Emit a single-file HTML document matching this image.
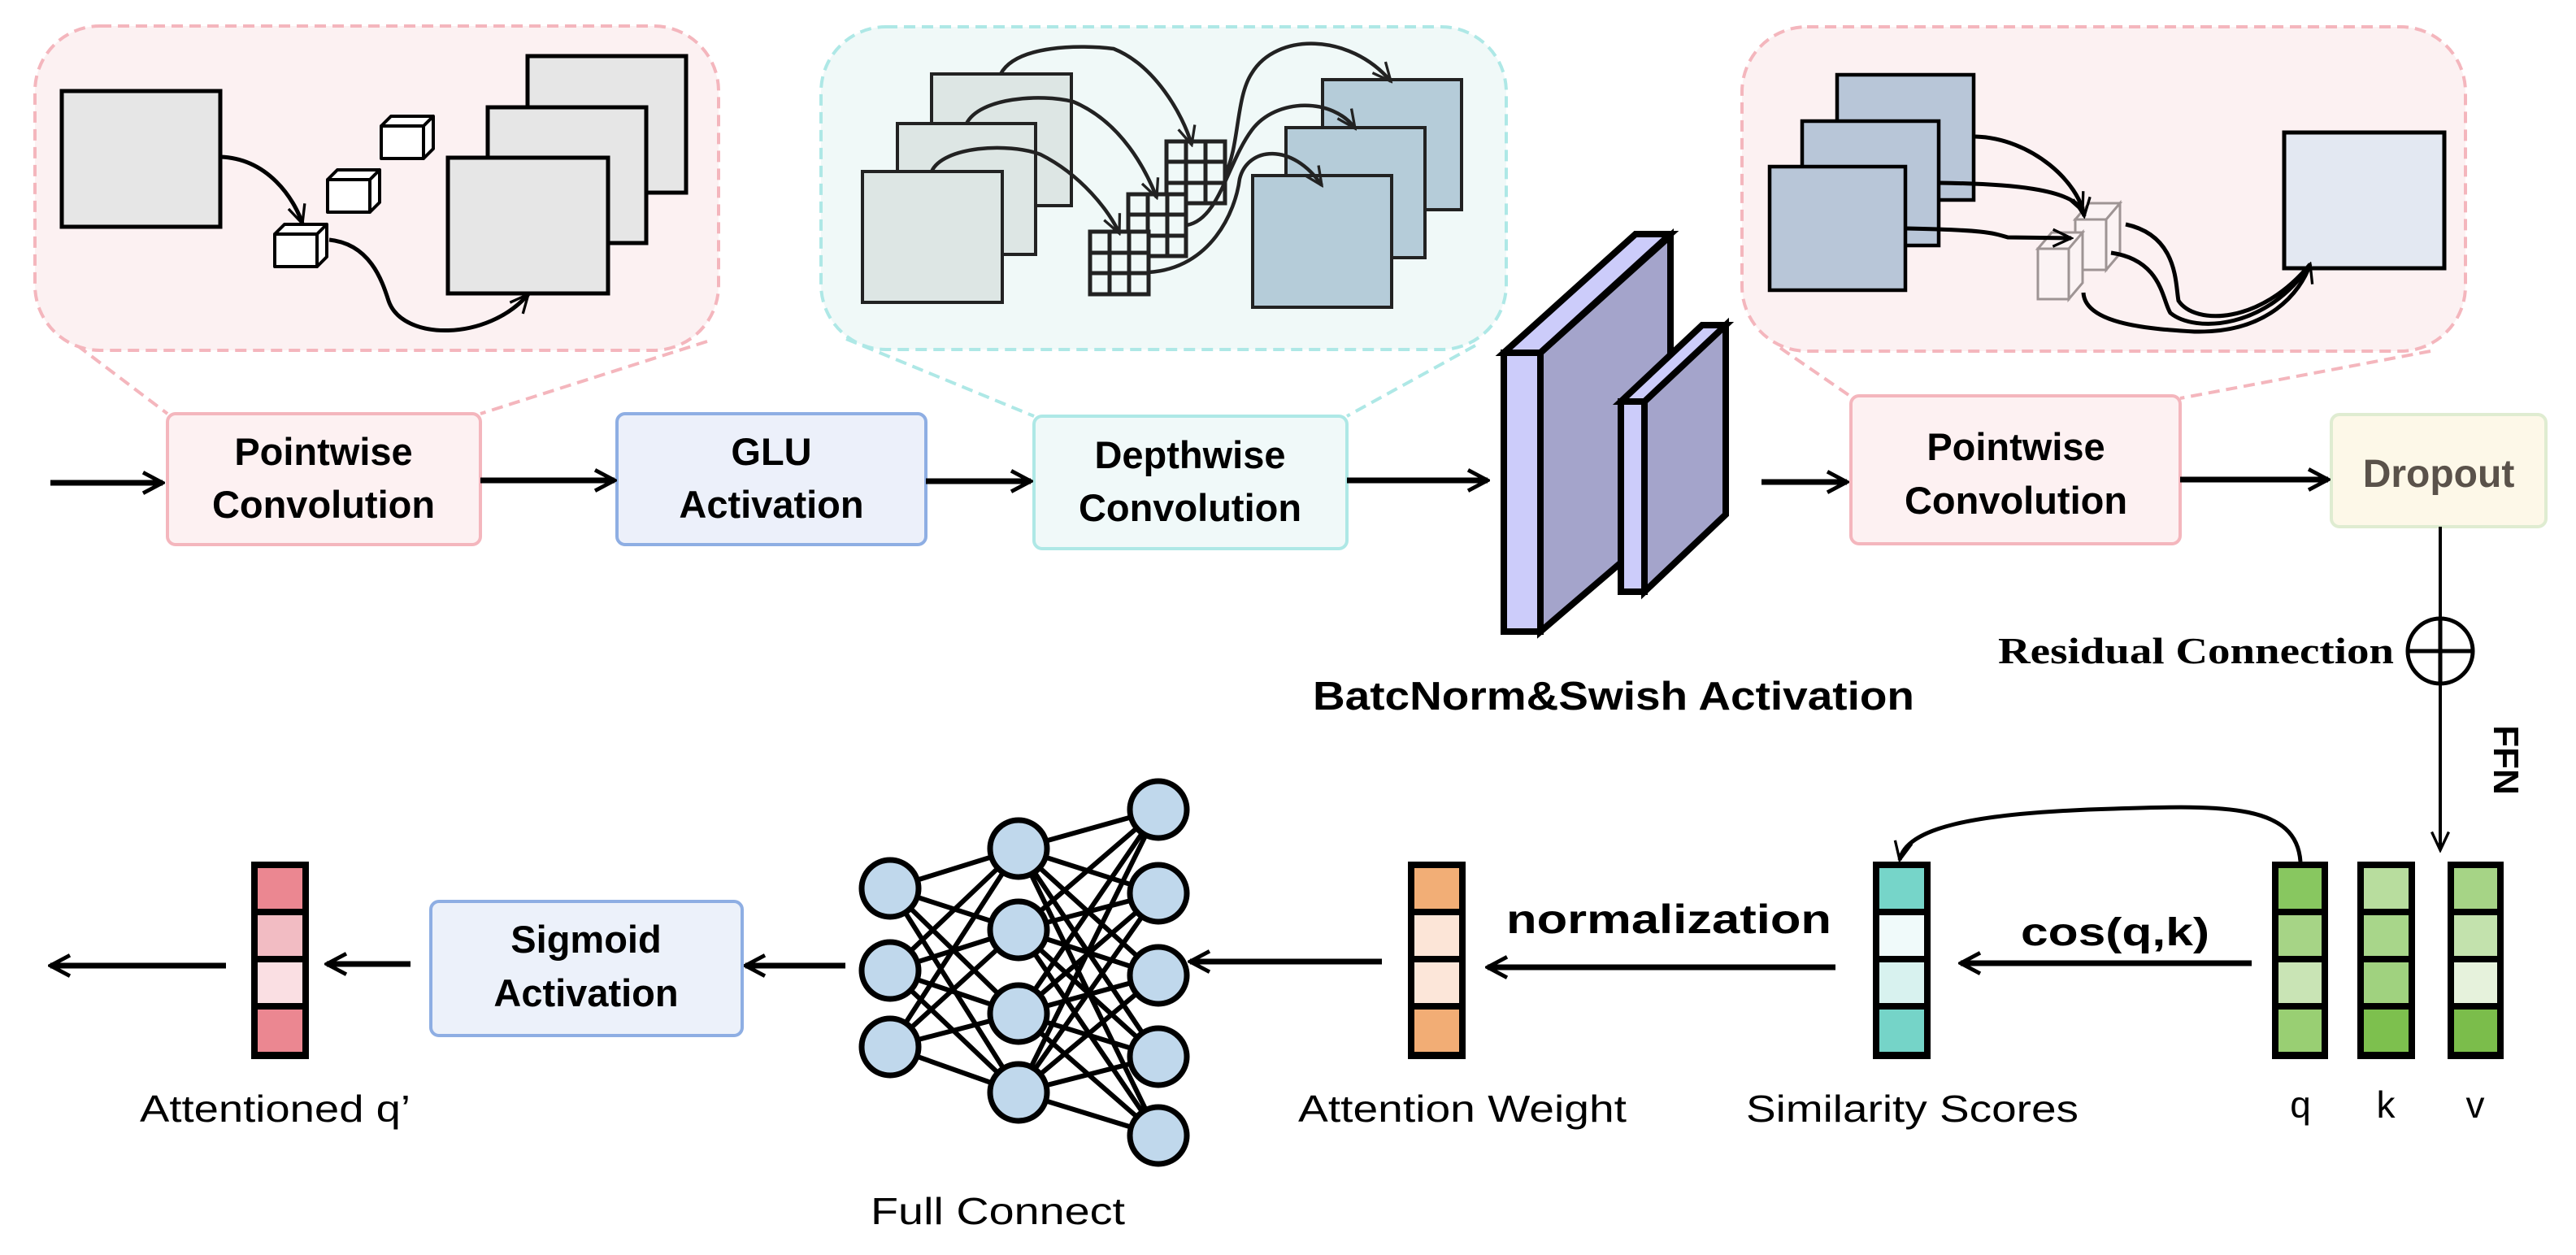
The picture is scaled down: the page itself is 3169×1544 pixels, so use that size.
<!DOCTYPE html>
<html><head><meta charset="utf-8"><style>
html,body{margin:0;padding:0;background:#fff}
svg{display:block}
text{font-family:"Liberation Sans",Arial,sans-serif}
.b{font-weight:bold}
</style></head><body>
<svg width="3169" height="1544" viewBox="0 0 3169 1544" xmlns="http://www.w3.org/2000/svg">
<defs>
<marker id="a" viewBox="0 0 20 20" refX="18" refY="10" markerWidth="32" markerHeight="32" markerUnits="userSpaceOnUse" orient="auto"><path d="M3,2 L18,10 L3,18" fill="none" stroke="#000" stroke-width="3"/></marker>
<marker id="s" viewBox="0 0 20 20" refX="18" refY="10" markerWidth="30" markerHeight="30" markerUnits="userSpaceOnUse" orient="auto"><path d="M3,3 L18,10 L3,17" fill="none" stroke="#000" stroke-width="2.2"/></marker>
<marker id="t" viewBox="0 0 20 20" refX="18" refY="10" markerWidth="30" markerHeight="30" markerUnits="userSpaceOnUse" orient="auto"><path d="M3,3 L18,10 L3,17" fill="none" stroke="#222" stroke-width="2.2"/></marker>
</defs>

<!-- ===== Box 1 (pink) ===== -->
<line x1="95" y1="425" x2="206" y2="509" stroke="#f4b6bd" stroke-width="4" stroke-dasharray="14 8"/>
<line x1="870" y1="420" x2="591" y2="509" stroke="#f4b6bd" stroke-width="4" stroke-dasharray="14 8"/>
<rect x="43" y="32" width="841" height="399" rx="80" fill="#fcf1f2" stroke="#f4b6bd" stroke-width="4" stroke-dasharray="14 8"/>
<rect x="76" y="112" width="195" height="167" fill="#e6e6e6" stroke="#000" stroke-width="5"/>
<rect x="649" y="69" width="195" height="168" fill="#e6e6e6" stroke="#000" stroke-width="5"/>
<rect x="600" y="132" width="195" height="167" fill="#e6e6e6" stroke="#000" stroke-width="5"/>
<rect x="551" y="194" width="197" height="167" fill="#e6e6e6" stroke="#000" stroke-width="5"/>
<g fill="#fff" stroke="#000" stroke-width="4" stroke-linejoin="round">
<path d="M338,288 h52 v40 h-52z M338,288 l12,-12 h52 l-12,12z M390,288 l12,-12 v40 l-12,12z"/>
<path d="M403,221 h52 v40 h-52z M403,221 l12,-12 h52 l-12,12z M455,221 l12,-12 v40 l-12,12z"/>
<path d="M469,155 h52 v40 h-52z M469,155 l12,-12 h52 l-12,12z M521,155 l12,-12 v40 l-12,12z"/>
</g>
<path d="M271,193 C330,195 362,245 372,275" fill="none" stroke="#000" stroke-width="5" marker-end="url(#s)"/>
<path d="M405,295 C455,300 470,345 478,370 C495,420 600,420 650,362" fill="none" stroke="#000" stroke-width="5" marker-end="url(#s)"/>

<!-- ===== Box 2 (teal) ===== -->
<line x1="1041" y1="417" x2="1272" y2="512" stroke="#aee8e6" stroke-width="4" stroke-dasharray="14 8"/>
<line x1="1815" y1="425" x2="1657" y2="512" stroke="#aee8e6" stroke-width="4" stroke-dasharray="14 8"/>
<rect x="1010" y="33" width="843" height="397" rx="80" fill="#f0f9f8" stroke="#aee8e6" stroke-width="4" stroke-dasharray="14 8"/>
<g stroke="#222" stroke-width="4">
<rect x="1146" y="91" width="172" height="162" fill="#dde6e4"/>
<rect x="1104" y="152" width="170" height="161" fill="#dde6e4"/>
<rect x="1061" y="211" width="172" height="161" fill="#dde6e4"/>
<rect x="1627" y="98" width="171" height="160" fill="#b5ccd9"/>
<rect x="1582" y="157" width="171" height="160" fill="#b5ccd9"/>
<rect x="1541" y="216" width="171" height="162" fill="#b5ccd9"/>
</g>
<g fill="#f0f9f8" stroke="#222" stroke-width="5">
<rect x="1435" y="174" width="72" height="76"/>
<path d="M1459,174 V250 M1483,174 V250 M1435,199 H1507 M1435,225 H1507"/>
<rect x="1388" y="239" width="71" height="76"/>
<path d="M1412,239 V315 M1436,239 V315 M1388,264 H1459 M1388,290 H1459"/>
<rect x="1341" y="285" width="72" height="77"/>
<path d="M1365,285 V362 M1389,285 V362 M1341,311 H1413 M1341,336 H1413"/>
</g>
<g fill="none" stroke="#222" stroke-width="4.5">
<path d="M1231,91 C1250,55 1330,55 1370,60 C1420,80 1455,140 1466,178" marker-end="url(#t)"/>
<path d="M1189,152 C1205,120 1280,115 1320,125 C1380,150 1410,210 1423,243" marker-end="url(#t)"/>
<path d="M1146,211 C1160,180 1240,175 1280,190 C1330,215 1365,260 1377,287" marker-end="url(#t)"/>
<path d="M1507,215 C1525,180 1520,120 1540,90 C1570,40 1660,40 1711,100" marker-end="url(#t)"/>
<path d="M1460,277 C1500,270 1510,200 1540,160 C1570,120 1640,120 1667,158" marker-end="url(#t)"/>
<path d="M1413,335 C1490,330 1520,260 1525,220 C1535,180 1590,175 1626,228" marker-end="url(#t)"/>
</g>

<!-- ===== Box 3 (pink) ===== -->
<line x1="2190" y1="428" x2="2280" y2="490" stroke="#f4b6bd" stroke-width="4" stroke-dasharray="14 8"/>
<line x1="2990" y1="432" x2="2682" y2="490" stroke="#f4b6bd" stroke-width="4" stroke-dasharray="14 8"/>
<rect x="2143" y="33" width="890" height="399" rx="80" fill="#fcf1f2" stroke="#f4b6bd" stroke-width="4" stroke-dasharray="14 8"/>
<g stroke="#000" stroke-width="4.5" fill="#b8c6d8">
<rect x="2260" y="92" width="168" height="154"/>
<rect x="2217" y="149" width="168" height="153"/>
<rect x="2177" y="205" width="167" height="152"/>
</g>
<rect x="2810" y="163" width="197" height="167" fill="#e3e8f2" stroke="#000" stroke-width="5"/>
<g fill="#fbf4f5" stroke="#9a9090" stroke-width="3" opacity="0.95">
<path d="M2553,270 h38 v62 h-38z M2553,270 l17,-20 h38 l-17,20z M2591,270 l17,-20 v62 l-17,20z"/>
<path d="M2507,306 h38 v62 h-38z M2507,306 l17,-20 h38 l-17,20z M2545,306 l17,-20 v62 l-17,20z"/>
</g>
<g fill="none" stroke="#000" stroke-width="5">
<path d="M2430,168 C2500,170 2558,225 2564,266" marker-end="url(#s)"/>
<path d="M2386,225 C2470,226 2550,232 2562,260" marker-end="url(#s)"/>
<path d="M2345,281 C2440,283 2450,286 2470,292 L2548,293" marker-end="url(#s)"/>
<path d="M2615,276 C2680,290 2676,350 2680,370 C2700,400 2780,400 2842,325"/>
<path d="M2597,311 C2660,320 2660,370 2670,385 C2700,410 2790,405 2842,325"/>
<path d="M2563,360 C2565,400 2650,405 2700,408 C2790,410 2830,360 2842,325" marker-end="url(#s)"/>
</g>

<!-- ===== Top row boxes ===== -->
<rect x="206" y="509" width="385" height="161" rx="10" fill="#fdf1f2" stroke="#f4b6bd" stroke-width="4"/>
<text x="398" y="572" font-size="47" class="b" text-anchor="middle">Pointwise</text>
<text x="398" y="637" font-size="47" class="b" text-anchor="middle">Convolution</text>
<rect x="759" y="509" width="380" height="161" rx="10" fill="#ecf0fa" stroke="#8eaee3" stroke-width="4"/>
<text x="949" y="572" font-size="47" class="b" text-anchor="middle">GLU</text>
<text x="949" y="637" font-size="47" class="b" text-anchor="middle">Activation</text>
<rect x="1272" y="512" width="385" height="163" rx="10" fill="#f0f9f9" stroke="#aee8e6" stroke-width="4"/>
<text x="1464" y="576" font-size="47" class="b" text-anchor="middle">Depthwise</text>
<text x="1464" y="641" font-size="47" class="b" text-anchor="middle">Convolution</text>
<rect x="2277" y="487" width="405" height="182" rx="10" fill="#fdf1f2" stroke="#f4b6bd" stroke-width="4"/>
<text x="2480" y="566" font-size="47" class="b" text-anchor="middle">Pointwise</text>
<text x="2480" y="632" font-size="47" class="b" text-anchor="middle">Convolution</text>
<rect x="2868" y="510" width="264" height="138" rx="10" fill="#fdf8e8" stroke="#dfecd1" stroke-width="4"/>
<text x="3000" y="599" font-size="48" class="b" text-anchor="middle" fill="#5a524a">Dropout</text>

<g stroke="#000" stroke-width="7" fill="none">
<line x1="62" y1="594" x2="200" y2="594" marker-end="url(#a)"/>
<line x1="591" y1="591" x2="756" y2="591" marker-end="url(#a)"/>
<line x1="1139" y1="592" x2="1268" y2="592" marker-end="url(#a)"/>
<line x1="1657" y1="591" x2="1830" y2="591" marker-end="url(#a)"/>
<line x1="2167" y1="593" x2="2272" y2="593" marker-end="url(#a)"/>
<line x1="2682" y1="590" x2="2864" y2="590" marker-end="url(#a)"/>
</g>

<!-- ===== Slabs ===== -->
<g stroke="#000" stroke-width="8" stroke-linejoin="miter">
<polygon points="1895,434 2055,290 2055,640 1895,777" fill="#a4a4cb"/>
<polygon points="1850,434 2012,288 2055,288 1895,434" fill="#ccccfa"/>
<rect x="1850" y="434" width="45" height="343" fill="#ccccfa"/>
<polygon points="2023,494 2123,400 2123,633 2023,728" fill="#a4a4cb"/>
<polygon points="1994,494 2094,400 2123,400 2023,494" fill="#ccccfa"/>
<rect x="1994" y="494" width="29" height="234" fill="#ccccfa"/>
</g>
<text x="1615" y="873" font-size="49" class="b" textLength="740" lengthAdjust="spacingAndGlyphs">BatcNorm&amp;Swish Activation</text>

<!-- ===== Residual ===== -->
<line x1="3002" y1="648" x2="3002" y2="761" stroke="#000" stroke-width="4"/>
<circle cx="3002" cy="801" r="40" fill="none" stroke="#000" stroke-width="5"/>
<path d="M2962,801 H3042 M3002,761 V841" stroke="#000" stroke-width="5"/>
<line x1="3002" y1="841" x2="3002" y2="1046" stroke="#000" stroke-width="4" marker-end="url(#s)"/>
<text x="2458" y="816" font-size="46" font-weight="bold" font-family="Liberation Serif,serif" textLength="487" lengthAdjust="spacingAndGlyphs" style="font-family:'Liberation Serif',serif">Residual Connection</text>
<text transform="translate(3068,935) rotate(90)" font-size="44" class="b" text-anchor="middle">FFN</text>

<!-- ===== Vectors ===== -->
<g stroke="none">
<!-- q -->
<rect x="2795" y="1060" width="69" height="243" fill="#000"/>
<rect x="2803" y="1068" width="53" height="50" fill="#88c760"/>
<rect x="2803" y="1126" width="53" height="50" fill="#a6d486"/>
<rect x="2803" y="1184" width="53" height="50" fill="#c9e4b5"/>
<rect x="2803" y="1242" width="53" height="52" fill="#99cf73"/>
<!-- k -->
<rect x="2900" y="1060" width="71" height="243" fill="#000"/>
<rect x="2908" y="1068" width="55" height="50" fill="#b8dd9e"/>
<rect x="2908" y="1126" width="55" height="50" fill="#a8d68a"/>
<rect x="2908" y="1184" width="55" height="50" fill="#a0d27f"/>
<rect x="2908" y="1242" width="55" height="52" fill="#7dc04e"/>
<!-- v -->
<rect x="3011" y="1060" width="69" height="243" fill="#000"/>
<rect x="3019" y="1068" width="53" height="50" fill="#a6d486"/>
<rect x="3019" y="1126" width="53" height="50" fill="#c3e2ad"/>
<rect x="3019" y="1184" width="53" height="50" fill="#e6f2dc"/>
<rect x="3019" y="1242" width="53" height="52" fill="#7bbd4b"/>
<!-- similarity -->
<rect x="2304" y="1060" width="71" height="243" fill="#000"/>
<rect x="2312" y="1068" width="55" height="50" fill="#76d5c9"/>
<rect x="2312" y="1126" width="55" height="50" fill="#f0fafa"/>
<rect x="2312" y="1184" width="55" height="50" fill="#d8f2ef"/>
<rect x="2312" y="1242" width="55" height="52" fill="#75d4c8"/>
<!-- attention weight -->
<rect x="1732" y="1060" width="71" height="243" fill="#000"/>
<rect x="1740" y="1068" width="55" height="50" fill="#f2ae76"/>
<rect x="1740" y="1126" width="55" height="50" fill="#fce5d7"/>
<rect x="1740" y="1184" width="55" height="50" fill="#fce6d9"/>
<rect x="1740" y="1242" width="55" height="52" fill="#f2ad75"/>
<!-- attentioned q' -->
<rect x="309" y="1060" width="71" height="243" fill="#000"/>
<rect x="317" y="1068" width="55" height="50" fill="#eb8791"/>
<rect x="317" y="1126" width="55" height="50" fill="#f2bcc3"/>
<rect x="317" y="1184" width="55" height="50" fill="#fadfe3"/>
<rect x="317" y="1242" width="55" height="52" fill="#eb8791"/>
</g>

<path d="M2830,1060 C2825,990 2740,990 2600,995 C2420,1000 2345,1020 2337,1058" fill="none" stroke="#000" stroke-width="5" marker-end="url(#s)"/>

<g stroke="#000" stroke-width="7" fill="none">
<line x1="2770" y1="1185" x2="2412" y2="1185" marker-end="url(#a)"/>
<line x1="2258" y1="1190" x2="1830" y2="1190" marker-end="url(#a)"/>
<line x1="1700" y1="1183" x2="1464" y2="1183" marker-end="url(#a)"/>
<line x1="1040" y1="1188" x2="917" y2="1188" marker-end="url(#a)"/>
<line x1="505" y1="1186" x2="402" y2="1186" marker-end="url(#a)"/>
<line x1="278" y1="1188" x2="62" y2="1188" marker-end="url(#a)"/>
</g>
<text x="2486" y="1163" font-size="48" class="b" textLength="232" lengthAdjust="spacingAndGlyphs">cos(q,k)</text>
<text x="1853" y="1148" font-size="50" class="b" textLength="400" lengthAdjust="spacingAndGlyphs">normalization</text>

<!-- Sigmoid -->
<rect x="530" y="1109" width="383" height="165" rx="10" fill="#ecf1fa" stroke="#8eaee3" stroke-width="4"/>
<text x="721" y="1172" font-size="47" class="b" text-anchor="middle">Sigmoid</text>
<text x="721" y="1238" font-size="47" class="b" text-anchor="middle">Activation</text>

<!-- NN -->
<g stroke="#000" stroke-width="6">
<path d="M1095,1093 L1253,1044 M1095,1093 L1253,1144 M1095,1093 L1253,1247 M1095,1093 L1253,1344
M1095,1194 L1253,1044 M1095,1194 L1253,1144 M1095,1194 L1253,1247 M1095,1194 L1253,1344
M1095,1288 L1253,1044 M1095,1288 L1253,1144 M1095,1288 L1253,1247 M1095,1288 L1253,1344
M1253,1044 L1425,996 M1253,1044 L1425,1099 M1253,1044 L1425,1200 M1253,1044 L1425,1300 M1253,1044 L1425,1397
M1253,1144 L1425,996 M1253,1144 L1425,1099 M1253,1144 L1425,1200 M1253,1144 L1425,1300 M1253,1144 L1425,1397
M1253,1247 L1425,996 M1253,1247 L1425,1099 M1253,1247 L1425,1200 M1253,1247 L1425,1300 M1253,1247 L1425,1397
M1253,1344 L1425,996 M1253,1344 L1425,1099 M1253,1344 L1425,1200 M1253,1344 L1425,1300 M1253,1344 L1425,1397"/>
</g>
<g fill="#c0d8ec" stroke="#000" stroke-width="7">
<circle cx="1095" cy="1093" r="35"/><circle cx="1095" cy="1194" r="35"/><circle cx="1095" cy="1288" r="35"/>
<circle cx="1253" cy="1044" r="35"/><circle cx="1253" cy="1144" r="35"/><circle cx="1253" cy="1247" r="35"/><circle cx="1253" cy="1344" r="35"/>
<circle cx="1425" cy="996" r="35"/><circle cx="1425" cy="1099" r="35"/><circle cx="1425" cy="1200" r="35"/><circle cx="1425" cy="1300" r="35"/><circle cx="1425" cy="1397" r="35"/>
</g>

<!-- labels -->
<g font-size="46">
<text x="172" y="1380" textLength="333" lengthAdjust="spacingAndGlyphs">Attentioned q’</text>
<text x="1071" y="1506" textLength="313" lengthAdjust="spacingAndGlyphs">Full Connect</text>
<text x="1597" y="1380" textLength="404" lengthAdjust="spacingAndGlyphs">Attention Weight</text>
<text x="2148" y="1380" textLength="409" lengthAdjust="spacingAndGlyphs">Similarity Scores</text>
<text x="2830" y="1375" text-anchor="middle">q</text>
<text x="2935" y="1375" text-anchor="middle">k</text>
<text x="3045" y="1375" text-anchor="middle">v</text>
</g>
</svg>
</body></html>
